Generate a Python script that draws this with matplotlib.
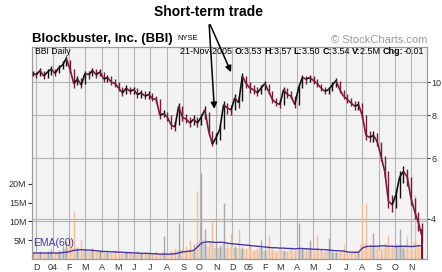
import numpy as np
import pandas as pd
import matplotlib
matplotlib.use("Agg")
import matplotlib.pyplot as plt
import matplotlib.dates as mdates
from matplotlib.collections import LineCollection
from matplotlib.ticker import FixedLocator, NullLocator, NullFormatter

plt.rcParams['font.family'] = ['Liberation Sans', 'DejaVu Sans']

# weekly closes / lows / highs, Nov 24 2003 -> Nov 21 2005
closes = [10.6, 10.5, 10.8, 10.4, 10.7, 10.9, 10.6, 11.0, 11.2, 11.7,
          10.9, 9.9, 10.2, 9.8, 10.6, 10.5, 10.8, 10.5, 10.7, 10.2,
          10.3, 10.0, 9.9, 9.6, 9.3, 9.6, 9.4, 9.5, 9.2, 9.3,
          9.1, 9.2, 8.95, 8.9, 8.0, 8.1, 7.9, 7.5, 7.4, 8.5,
          7.9, 7.8, 7.6, 7.8, 7.6, 7.9, 8.3, 7.2, 6.6, 6.9,
          7.3, 8.6, 8.4, 8.3, 9.0, 8.7, 10.4, 9.9, 9.6, 9.5,
          9.3, 9.6, 9.9, 9.4, 8.9, 8.7, 8.6, 9.5, 9.2, 9.1,
          8.6, 9.6, 10.3, 10.2, 10.3, 10.1, 9.9, 9.6, 9.4, 9.5,
          9.8, 10.1, 9.5, 9.1, 8.9, 8.7, 8.5, 8.6, 8.0, 7.0,
          6.9, 7.0, 6.7, 6.1, 5.5, 4.5, 4.4, 4.7, 5.3, 5.5,
          5.3, 4.6, 4.2, 3.9, 3.54]
lows = [10.4, 10.3, 10.4, 10.2, 10.3, 10.5, 10.4, 10.6, 10.9, 11.1,
        10.6, 9.6, 9.8, 9.6, 9.9, 10.2, 10.4, 10.3, 10.4, 10.0,
        10.0, 9.8, 9.7, 9.4, 9.1, 9.2, 9.2, 9.2, 9.0, 9.0,
        8.9, 8.9, 8.8, 8.7, 7.8, 7.9, 7.7, 7.3, 7.2, 7.5,
        7.7, 7.6, 7.4, 7.5, 7.4, 7.5, 7.8, 7.0, 6.5, 6.6,
        6.8, 7.3, 8.1, 8.0, 8.3, 8.4, 8.8, 9.6, 9.3, 9.2,
        9.1, 9.2, 9.5, 9.2, 8.7, 8.5, 8.4, 8.6, 9.0, 8.9,
        8.4, 8.6, 9.6, 9.9, 10.0, 9.9, 9.7, 9.4, 9.2, 9.2,
        9.4, 9.7, 9.3, 8.9, 8.7, 8.5, 8.3, 8.3, 7.8, 6.8,
        6.7, 6.7, 6.5, 5.9, 5.3, 4.3, 4.2, 4.3, 4.6, 5.1,
        5.0, 4.4, 4.0, 3.7, 3.4]
highs = [10.8, 10.7, 11.0, 10.8, 10.9, 11.1, 10.9, 11.2, 11.5, 11.9,
         11.6, 10.9, 10.4, 10.3, 10.8, 10.8, 11.0, 10.9, 10.9, 10.7,
         10.5, 10.4, 10.2, 10.0, 9.7, 9.8, 9.7, 9.7, 9.6, 9.5,
         9.4, 9.4, 9.3, 9.1, 8.9, 8.3, 8.2, 8.0, 7.7, 8.7,
         8.5, 8.1, 7.9, 8.0, 7.9, 8.1, 8.5, 8.2, 7.2, 7.1,
         7.5, 8.8, 8.7, 8.6, 9.2, 9.1, 10.6, 10.4, 10.0, 9.8,
         9.7, 9.8, 10.1, 9.9, 9.4, 9.0, 8.9, 9.7, 9.6, 9.4,
         9.1, 9.8, 10.5, 10.4, 10.5, 10.4, 10.2, 9.9, 9.7, 9.7,
         10.0, 10.3, 10.1, 9.5, 9.2, 9.0, 8.8, 8.8, 8.7, 8.0,
         7.2, 7.2, 7.1, 6.7, 6.1, 5.5, 4.7, 4.9, 5.5, 5.7,
         5.6, 5.3, 4.6, 4.2, 3.9]

# weekly volume (millions): typical day and biggest day
vol_base = [1.4, 1.3, 1.6, 1.4, 1.5, 1.8, 1.6, 1.7, 2.2, 2.6,
            2.8, 3.0, 2.4, 2.6, 2.2, 2.0, 2.1, 1.8, 1.9, 1.6,
            1.7, 1.5, 1.7, 1.6, 1.4, 1.6, 1.5, 1.3, 1.5, 1.4,
            1.4, 1.2, 1.3, 1.4, 1.3, 1.8, 1.4, 1.6, 1.8, 2.4,
            2.0, 2.2, 2.6, 2.5, 4.5, 5.0, 4.0, 3.2, 4.2, 3.0,
            3.0, 4.0, 3.0, 3.2, 2.8, 3.0, 2.6, 2.4, 2.6, 2.2,
            2.4, 2.8, 2.2, 2.8, 2.3, 2.0, 2.4, 2.2, 1.9, 2.3,
            2.1, 3.0, 2.4, 2.2, 2.6, 2.0, 2.6, 2.1, 1.9, 2.4,
            1.9, 1.7, 1.8, 2.2, 1.5, 1.7, 1.8, 1.8, 4.0, 4.2,
            2.8, 3.4, 2.6, 2.4, 2.9, 3.2, 2.8, 2.9, 3.6, 2.6,
            3.2, 2.7, 4.5, 3.0, 3.5]
vol_peak = [1.8, 1.4, 2.2, 1.6, 2.0, 2.6, 1.9, 2.4, 3.5, 4.8,
            5.5, 12.5, 3.2, 5.0, 2.8, 2.2, 3.0, 2.0, 2.5, 1.8,
            2.2, 1.6, 2.4, 1.9, 1.5, 2.1, 1.7, 1.4, 2.0, 1.5,
            1.8, 1.3, 1.6, 2.2, 1.5, 6.0, 1.8, 2.5, 3.0, 9.6,
            2.6, 3.5, 5.0, 4.0, 18.0, 23.0, 8.0, 4.5, 10.0, 4.2,
            3.8, 15.0, 4.0, 7.0, 3.5, 8.0, 3.2, 2.8, 3.6, 2.5,
            2.8, 5.0, 2.4, 6.0, 2.6, 2.2, 3.0, 2.5, 2.0, 2.8,
            2.4, 9.6, 3.0, 2.6, 5.0, 2.2, 6.4, 2.4, 2.0, 5.5,
            2.2, 1.8, 2.0, 4.0, 1.6, 1.8, 2.2, 2.0, 15.0, 15.0,
            4.0, 7.0, 3.5, 3.0, 4.2, 6.4, 3.8, 4.0, 8.0, 3.2,
            6.0, 3.5, 17.0, 4.0, 8.0]

# EMA(60) of volume (millions)
ema60 = [1.6, 1.6, 1.6, 1.6, 1.6, 1.6, 1.6, 1.6, 1.7, 1.8,
         2.0, 2.3, 2.4, 2.5, 2.4, 2.4, 2.3, 2.2, 2.1, 2.0,
         2.0, 1.9, 1.9, 1.8, 1.8, 1.7, 1.7, 1.6, 1.6, 1.5,
         1.5, 1.5, 1.4, 1.4, 1.3, 1.3, 1.3, 1.3, 1.4, 1.6,
         1.9, 2.0, 2.1, 2.3, 3.2, 4.2, 4.5, 4.6, 4.5, 4.4,
         4.5, 4.4, 4.2, 4.1, 4.0, 3.9, 3.8, 3.7, 3.6, 3.5,
         3.4, 3.3, 3.2, 3.1, 3.0, 3.0, 2.9, 2.9, 2.8, 2.8,
         2.7, 2.8, 2.8, 2.7, 2.7, 2.6, 2.6, 2.5, 2.5, 2.4,
         2.3, 2.2, 2.2, 2.1, 1.9, 1.8, 1.8, 1.8, 2.9, 3.3,
         3.4, 3.4, 3.4, 3.5, 3.5, 3.4, 3.4, 3.3, 3.4, 3.4,
         3.4, 3.3, 3.4, 3.5, 3.6]

month_labels = ['D', '04', 'F', 'M', 'A', 'M', 'J', 'J', 'A', 'S', 'O', 'N',
                'D', '05', 'F', 'M', 'A', 'M', 'J', 'J', 'A', 'S', 'O', 'N']
price_ticks = [4, 6, 8, 10]
vol_ticks = [5, 10, 15, 20]

dates = pd.date_range('2003-11-24', periods=len(closes), freq='7D')
months = pd.date_range('2003-12-01', periods=len(month_labels), freq='MS')
xd = mdates.date2num(dates)

W, H = 442, 272
fig = plt.figure(figsize=(W / 100, H / 100), dpi=100)
fig.patch.set_facecolor('white')

ax_v = fig.add_axes([32 / W, 1 - 259 / H, 395 / W, 212 / H])
ax_v.set_facecolor('#f3f3f3')
ax_p = ax_v.twinx()

x0 = mdates.date2num(pd.Timestamp('2003-11-23'))
x1 = mdates.date2num(pd.Timestamp('2005-11-30'))
ax_v.set_xlim(x0, x1)

# grid
for m in mdates.date2num(months):
    ax_v.axvline(m, color='#b4b4b4', lw=0.8, zorder=0)
ax_v.axhline(10, color='#b4b4b4', lw=0.8, zorder=0)

# volume
up = [True] + [closes[i] >= closes[i - 1] for i in range(1, len(closes))]
base_col = ['#d2d2d2' if u else '#f3d7c3' for u in up]
peak_col = ['#a9a9a9' if u else '#efbf9c' for u in up]
ax_v.bar(xd, vol_base, width=7, color=base_col, linewidth=0, zorder=1)
ax_v.vlines(xd[:-1], 0, vol_peak[:-1], colors=peak_col[:-1], lw=1.0, zorder=2)
ax_v.vlines(xd[-1:], 0, vol_peak[-1:], colors='#7a0f2a', lw=1.4, zorder=2)
ax_v.plot(xd, ema60, color='#4a35a8', lw=1.0, zorder=3)
ax_v.text(x0 + 1.5, 3.0, 'EMA(60)', color='#4a35a8', fontsize=7.5, va='bottom', zorder=4)

ax_v.set_ylim(0, 56.5)
ax_v.yaxis.set_major_locator(FixedLocator(vol_ticks))
ax_v.set_yticklabels([f'{v}M' for v in vol_ticks])
ax_v.tick_params(axis='y', labelsize=6.5, length=3, pad=1, colors='#333333')

ax_v.xaxis.set_major_locator(FixedLocator(mdates.date2num(months)))
ax_v.set_xticklabels(month_labels)
ax_v.tick_params(axis='x', labelsize=6.5, length=0, pad=3, colors='#333333')

# price
ax_p.set_yscale('log')
ax_p.set_ylim(3.06, 12.64)
ax_p.yaxis.set_major_locator(FixedLocator(price_ticks))
ax_p.yaxis.set_minor_locator(NullLocator())
ax_p.yaxis.set_minor_formatter(NullFormatter())
ax_p.set_yticklabels([str(p) for p in price_ticks])
ax_p.tick_params(axis='y', labelsize=6.5, length=2, pad=1, colors='#333333')
for p in price_ticks:
    ax_p.axhline(p, color='#b4b4b4', lw=0.8, zorder=0)

bar_col = ['#111111' if u else '#7a1a3c' for u in up]
ax_p.vlines(xd, lows, highs, colors=bar_col, lw=1.0, zorder=4)
pts = np.column_stack([xd, closes])
segs = np.stack([pts[:-1], pts[1:]], axis=1)
ax_p.add_collection(LineCollection(segs, colors=bar_col[1:], linewidths=1.2, zorder=5))

for ax in (ax_v, ax_p):
    for s in ax.spines.values():
        s.set_color('#9a9a9a')
        s.set_linewidth(0.8)

# titles and header
fig.text(32 / W, 1 - 39 / H, 'Blockbuster, Inc. (BBI)', fontsize=9.5, fontweight='bold', va='center')
fig.text(177 / W, 1 - 38 / H, 'NYSE', fontsize=5.5, va='center')
fig.text(427 / W, 1 - 40 / H, '\u00a9 StockCharts.com', fontsize=8, color='#9a9a9a', ha='right', va='center')
fig.text(35 / W, 1 - 52 / H, 'BBI Daily', fontsize=6.2, va='center')

pieces = [('21-Nov-2005 ', False), ('O:', True), ('3.53 ', False), ('H:', True), ('3.57 ', False),
          ('L:', True), ('3.50 ', False), ('C:', True), ('3.54 ', False), ('V:', True),
          ('2.5M ', False), ('Chg:', True), ('-0.01', False)]
renderer = fig.canvas.get_renderer()
xpos = 424
for txt, bold in reversed(pieces):
    t = fig.text(xpos / W, 1 - 52 / H, txt, fontsize=6.5, ha='right', va='center',
                 fontweight='bold' if bold else 'normal')
    xpos -= t.get_window_extent(renderer).width

# annotation
fig.text(208 / W, 1 - 12 / H, 'Short-term trade', fontsize=10, fontweight='bold', ha='center', va='center')
tip1 = (mdates.date2num(pd.Timestamp('2004-10-29')), 8.2)
tip2 = (mdates.date2num(pd.Timestamp('2004-12-01')), 10.5)
for tip in (tip1, tip2):
    ax_p.annotate('', xy=tip, xycoords='data', xytext=(209, H - 22), textcoords='figure pixels',
                  arrowprops=dict(arrowstyle='-|>', color='black', lw=1.1, mutation_scale=9),
                  annotation_clip=False, zorder=10)

fig.savefig('out.png', dpi=100)
